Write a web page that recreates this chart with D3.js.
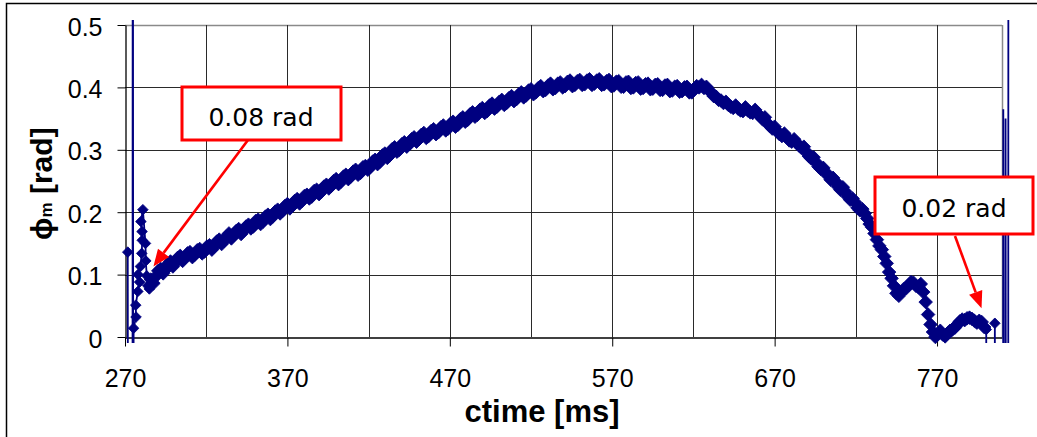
<!DOCTYPE html>
<html><head><meta charset="utf-8">
<script src="https://cdn.jsdelivr.net/npm/d3@7"></script>
<style>html,body{margin:0;padding:0;background:#fff;} svg{display:block;}</style>
</head><body>
<svg id="c" width="1037" height="437"></svg>
<script>
// ---- data ----
const ctimeStart = [271.7,271.9,274.6,274.8,275.1,275.3,276.8,276.6,277.9,279.0,278.0,279.5,280.3,280.6,280.5,279.8,281.0,282.6,282.8,283.4,284.0,285.0];
const phiStart   = [0.136,-0.6,-0.6,1.5,-0.6,0.014,0.032,0.051,0.073,0.088,0.100,0.113,0.134,0.155,0.169,0.185,0.204,0.150,0.122,0.098,0.082,0.077];

const ctimeMain = [286,289,292,295,298,301,304,307,310,313,
316,319,322,325,328,331,334,337,340,343,
346,349,352,355,358,361,364,367,370,373,
376,379,382,385,388,391,394,397,400,403,
406,409,412,415,418,421,424,427,430,433,
436,439,442,445,448,451,454,457,460,463,
466,469,472,475,478,481,484,487,490,493,
496,499,502,505,508,511,514,517,520,523,
526,529,532,535,538,541,544,547,550,553,
556,559,562,565,568,571,574,577,580,583,
586,589,592,595,598,601,604,607,610,613,
616,619,622,625,628,631,634,637,640,643,
646,649,652,655,658,661,664,667,670,673,
676,679,682,685,688,691,694,697,700,703,
706,709,712,715,718,721,724,727,730,733,
736,739,742,745,748,751,754,757,760,763,
766,769,772,775,778,781,784,787,790,793,
796,799];
const phiMain = [.092,.097,.109,.108,.121,.119,.130,.127,.136,.132,
.141,.137,.147,.145,.156,.154,.166,.163,.173,.170,
.180,.177,.188,.185,.196,.193,.204,.202,.213,.210,
.221,.218,.228,.225,.236,.233,.244,.242,.253,.249,
.260,.257,.268,.263,.274,.272,.284,.281,.294,.291,
.304,.300,.312,.309,.320,.317,.327,.322,.333,.328,
.339,.334,.345,.340,.352,.348,.360,.356,.367,.362,
.374,.369,.380,.375,.386,.381,.392,.387,.397,.392,
.402,.396,.406,.399,.408,.402,.411,.404,.412,.405,
.413,.406,.413,.405,.412,.403,.410,.401,.409,.400,
.408,.399,.406,.398,.405,.396,.404,.395,.402,.394,
.401,.392,.402,.404,.401,.392,.385,.379,.377,.369,
.371,.363,.368,.360,.364,.354,.352,.338,.337,.325,
.326,.315,.317,.307,.305,.290,.288,.273,.271,.258,
.255,.241,.240,.225,.222,.207,.205,.190,.176,.156,
.140,.118,.094,.070,.072,.078,.088,.082,.085,.056,
.020,.000,.010,.001,.010,.015,.025,.027,.031,.026,
.026,.016];

const ctimeMid = [287.5,290.5,293.5,296.5,299.5,302.5,305.5,308.5,311.5,314.5,
317.5,320.5,323.5,326.5,329.5,332.5,335.5,338.5,341.5,344.5,
347.5,350.5,353.5,356.5,359.5,362.5,365.5,368.5,371.5,374.5,
377.5,380.5,383.5,386.5,389.5,392.5,395.5,398.5,401.5,404.5,
407.5,410.5,413.5,416.5,419.5,422.5,425.5,428.5,431.5,434.5,
437.5,440.5,443.5,446.5,449.5,452.5,455.5,458.5,461.5,464.5,
467.5,470.5,473.5,476.5,479.5,482.5,485.5,488.5,491.5,494.5,
497.5,500.5,503.5,506.5,509.5,512.5,515.5,518.5,521.5,524.5,
527.5,530.5,533.5,536.5,539.5,542.5,545.5,548.5,551.5,554.5,
557.5,560.5,563.5,566.5,569.5,572.5,575.5,578.5,581.5,584.5,
587.5,590.5,593.5,596.5,599.5,602.5,605.5,608.5,611.5,614.5,
617.5,620.5,623.5,626.5,629.5,632.5,635.5,638.5,641.5,644.5,
647.5,650.5,653.5,656.5,659.5,662.5,665.5,668.5,671.5,674.5,
677.5,680.5,683.5,686.5,689.5,692.5,695.5,698.5,701.5,704.5,
707.5,710.5,713.5,716.5,719.5,722.5,725.5,728.5,731.5,734.5,
737.5,740.5,743.5,746.5,749.5,752.5,755.5,758.5,761.5,764.5,
767.5,770.5,773.5,776.5,779.5,782.5,785.5,788.5,791.5,794.5,
797.5];
const phiMid = [.086,.106,.102,.117,.113,.127,.122,.134,.128,.139,
.134,.145,.140,.153,.149,.161,.158,.170,.165,.177,
.174,.186,.181,.193,.189,.201,.198,.210,.206,.218,
.214,.226,.222,.234,.229,.241,.238,.250,.245,.257,
.253,.265,.260,.272,.268,.281,.277,.291,.287,.301,
.297,.309,.305,.317,.313,.324,.319,.330,.325,.336,
.331,.342,.337,.349,.345,.357,.353,.364,.359,.371,
.366,.377,.372,.383,.378,.389,.384,.395,.389,.399,
.394,.403,.397,.406,.400,.409,.402,.410,.404,.411,
.404,.411,.404,.410,.402,.409,.401,.408,.399,.407,
.398,.405,.397,.404,.396,.403,.394,.401,.393,.400,
.392,.398,.400,.399,.395,.386,.380,.375,.372,.367,
.366,.362,.363,.359,.358,.349,.343,.334,.330,.322,
.320,.313,.311,.303,.297,.286,.280,.269,.264,.252,
.249,.236,.233,.220,.216,.203,.198,.181,.166,.146,
.129,.104,.082,.066,.077,.083,.087,.080,.072,.036,
.008,.005,.004,.006,.012,.020,.028,.030,.029,.023,
.024];

const ctimeEnd = [800.3,800.5,805.3,805.6,805.9,810.6,810.8,811.1,812.0,812.2,812.5,813.8,814.0];
const phiEnd   = [0.012,-0.6,-0.6,0.022,-0.6,-0.6,0.365,-0.6,-0.6,0.350,-0.6,-0.6,1.5];

const xTickValues = [270,370,470,570,670,770];
const xGridValues = [320,370,420,470,520,570,620,670,720,770];
const yTickValues = [0,0.1,0.2,0.3,0.4,0.5];
const xDomain = [270,810];
const yDomain = [0,0.5];

const annoLabels = ["0.08 rad","0.02 rad"];
const annoTipT = [287.5,797.4];
const annoTipV = [0.113,0.046];

// ---- build ----
const body = d3.sort(ctimeMain.map((t,i)=>[t,phiMain[i]]).concat(ctimeMid.map((t,i)=>[t,phiMid[i]])), d=>d[0]);
const startPts = ctimeStart.map((t,i)=>[t,phiStart[i]]);
const endPts = ctimeEnd.map((t,i)=>[t,phiEnd[i]]);
const pts = startPts.concat(body, endPts);

const svg = d3.select("#c");
const L=125,R=1002,T=25,B=337;
const x = d3.scaleLinear().domain(xDomain).range([L,R]);
const y = d3.scaleLinear().domain(yDomain).range([B,T]);
const navy="#000080";
const font="'Liberation Sans', Arial, sans-serif";

svg.append("rect").attr("x",6.5).attr("y",3.5).attr("width",1040).attr("height",440)
  .attr("fill","none").attr("stroke","#000").attr("stroke-width",1.5);

// grid
svg.append("g").selectAll("line").data(yTickValues.filter(v=>v>0)).join("line")
  .attr("x1",L).attr("x2",R).attr("y1",d=>Math.round(y(d))+0.5).attr("y2",d=>Math.round(y(d))+0.5)
  .attr("stroke",d=>d===0.5?"#8a8a8a":"#2a2a2a").attr("stroke-width",d=>d===0.5?1.5:1);
svg.append("g").selectAll("line").data(xGridValues).join("line")
  .attr("y1",T).attr("y2",B).attr("x1",d=>Math.round(x(d))+0.5).attr("x2",d=>Math.round(x(d))+0.5)
  .attr("stroke","#2a2a2a").attr("stroke-width",1);
svg.append("line").attr("x1",R+0.5).attr("x2",R+0.5).attr("y1",T).attr("y2",B)
  .attr("stroke","#8a8a8a").attr("stroke-width",1.5);

// axes
const xAxis = d3.axisBottom(x).tickValues(xTickValues).tickSize(9).tickSizeOuter(0).tickPadding(23).tickFormat(d3.format("d"));
const gx = svg.append("g").attr("transform",`translate(0,${B+0.5})`).call(xAxis);
const yAxis = d3.axisLeft(y).tickValues(yTickValues).tickSize(8).tickSizeOuter(0).tickPadding(15)
  .tickFormat(d=>d===0?"0":d3.format(".1f")(d));
const gy = svg.append("g").attr("transform",`translate(${L+0.5},0)`).call(yAxis);
[gx,gy].forEach(g=>{
  g.selectAll("path.domain").attr("stroke","#000").attr("stroke-width",1.3);
  g.selectAll(".tick line").attr("stroke","#000");
  g.selectAll("text").attr("font-family",font).attr("font-size",25).attr("fill","#000");
});
gy.selectAll("text").attr("dy","0.4em");

// clip paths
const defs = svg.append("defs");
defs.append("clipPath").attr("id","lineclip").append("rect").attr("x",118).attr("y",20).attr("width",894).attr("height",323);

// series
const line = d3.line().x(d=>x(d[0])).y(d=>y(d[1]));
svg.append("path").datum(pts).attr("d",line).attr("fill","none")
  .attr("stroke",navy).attr("stroke-width",1.8).attr("clip-path","url(#lineclip)");
const visible = d=>d[0]<=xDomain[1] && d[1]>=-0.01 && d[1]<=0.51;
const smallMarker = d3.symbol().type(d3.symbolSquare).size(56);
const bigMarker = d3.symbol().type(d3.symbolSquare).size(92);
svg.append("g").selectAll("path").data(startPts.concat(endPts).filter(visible)).join("path")
  .attr("d",smallMarker).attr("transform",d=>`translate(${x(d[0])},${y(d[1])}) rotate(45)`)
  .attr("fill",navy).attr("stroke",navy).attr("stroke-width",0.8);
svg.append("g").selectAll("path").data(body.filter(visible)).join("path")
  .attr("d",bigMarker).attr("transform",d=>`translate(${x(d[0])},${y(d[1])}) rotate(45)`)
  .attr("fill",navy).attr("stroke",navy).attr("stroke-width",0.8);

// axis titles
svg.append("text").attr("x",542).attr("y",422).attr("text-anchor","middle")
  .attr("font-family",font).attr("font-weight","bold").attr("font-size",31).text("ctime [ms]");
const yt = svg.append("text").attr("transform","translate(52,240) rotate(-90)")
  .attr("font-family",font).attr("font-weight","bold").attr("font-size",30);
yt.append("tspan").text("ϕ");
yt.append("tspan").attr("font-size",17).text("m");
yt.append("tspan").text(" [rad]");

// annotations
const boxes = [{x:182,y:87,w:159,h:53,sx:248,sy:140,tx:261,ty:126},{x:875,y:177,w:158,h:57,sx:955,sy:236,tx:954,ty:217}];
boxes.forEach((b,i)=>{
  const tipX = x(annoTipT[i]), tipY = y(annoTipV[i]);
  const dx = tipX-b.sx, dy = tipY-b.sy, len=Math.hypot(dx,dy);
  const ux=dx/len, uy=dy/len, hl=17, hw=7;
  const bx = tipX-ux*hl, by = tipY-uy*hl;
  svg.append("line").attr("x1",b.sx).attr("y1",b.sy).attr("x2",bx).attr("y2",by)
    .attr("stroke","#ff0000").attr("stroke-width",2.6);
  svg.append("path").attr("d",`M${tipX},${tipY}L${bx-uy*hw},${by+ux*hw}L${bx+uy*hw},${by-ux*hw}Z`)
    .attr("fill","#ff0000");
  svg.append("rect").attr("x",b.x).attr("y",b.y).attr("width",b.w).attr("height",b.h)
    .attr("fill","#fff").attr("stroke","#ff0000").attr("stroke-width",3);
  svg.append("text").attr("x",b.tx).attr("y",b.ty).attr("text-anchor","middle")
    .attr("font-family","'DejaVu Sans', sans-serif").attr("font-size",25).attr("fill","#000").text(annoLabels[i]);
});
</script>
</body></html>
